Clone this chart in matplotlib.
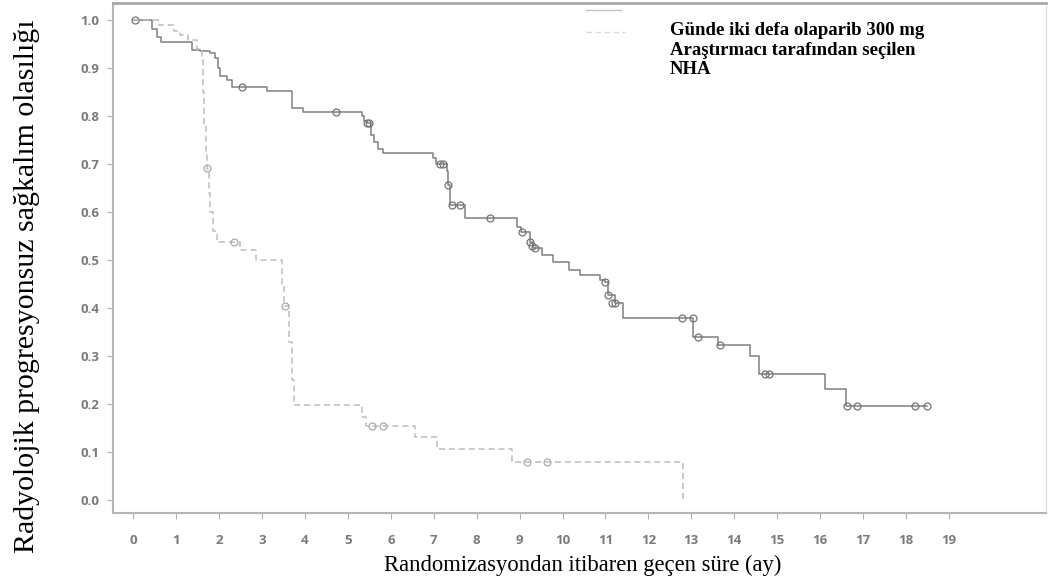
import matplotlib.pyplot as plt

# Olaparib kolu (düz çizgi): basamak zamanları (ay) ve sağkalım olasılığı
ola_t = [0, 0.45, 0.55, 0.65, 1.37, 1.56, 1.79, 1.91, 1.97, 2.03, 2.18, 2.30, 3.11, 3.69,
         3.96, 5.32, 5.38, 5.45, 5.55, 5.62, 5.70, 5.83, 6.98, 7.05, 7.30, 7.33, 7.37, 7.73,
         8.93, 9.03, 9.24, 9.32, 9.52, 9.79, 10.14, 10.41, 10.87, 10.99, 11.07, 11.22, 11.42,
         13.05, 13.62, 14.37, 14.57, 16.12, 16.60, 18.48]
ola_s = [1.0, 0.98, 0.965, 0.953, 0.9375, 0.934, 0.931, 0.92, 0.90, 0.882, 0.875, 0.86, 0.851,
         0.816, 0.809, 0.80, 0.79, 0.785, 0.76, 0.745, 0.73, 0.722, 0.712, 0.70, 0.685, 0.656,
         0.615, 0.587, 0.569, 0.559, 0.538, 0.524, 0.51, 0.496, 0.479, 0.469, 0.458, 0.455,
         0.427, 0.41, 0.3785, 0.34, 0.323, 0.30, 0.262, 0.231, 0.196, 0.196]
ola_cens_t = [0.05, 2.53, 4.73, 5.45, 5.50, 7.15, 7.22, 7.34, 7.42, 7.61, 8.31, 9.05, 9.24,
              9.30, 9.35, 10.99, 11.07, 11.15, 11.22, 12.78, 13.05, 13.15, 13.66, 14.72, 14.80,
              16.63, 16.85, 18.21, 18.48]
ola_cens_s = [1.0, 0.86, 0.809, 0.785, 0.785, 0.70, 0.70, 0.656, 0.615, 0.615, 0.587, 0.559,
              0.538, 0.53, 0.524, 0.455, 0.427, 0.41, 0.41, 0.3785, 0.3785, 0.34, 0.323, 0.262,
              0.262, 0.196, 0.196, 0.196, 0.196]

# NHA kolu (kesikli çizgi)
nha_t = [0, 0.6, 0.95, 1.1, 1.28, 1.48, 1.6, 1.63, 1.66, 1.69, 1.72, 1.76, 1.8, 1.86, 1.95,
         2.5, 2.85, 3.46, 3.52, 3.62, 3.7, 3.75, 5.32, 5.42, 6.57, 7.07, 8.82, 12.81]
nha_s = [1.0, 0.99, 0.976, 0.969, 0.958, 0.94, 0.92, 0.85, 0.78, 0.72, 0.69, 0.64, 0.60, 0.56,
         0.538, 0.521, 0.50, 0.45, 0.404, 0.33, 0.25, 0.198, 0.174, 0.154, 0.132, 0.106, 0.08, 0.0]
nha_cens_t = [1.71, 2.34, 3.53, 5.56, 5.83, 9.17, 9.63]
nha_cens_s = [0.691, 0.538, 0.404, 0.154, 0.154, 0.08, 0.08]

x_ticks = list(range(0, 20))
y_ticks = [i / 10 for i in range(0, 11)]

fig = plt.figure(figsize=(10.49, 5.83), dpi=100)
ax = fig.add_axes([0.1077, 0.12, 0.8894, 0.8749])

ax.step(ola_t, ola_s, where='post', color='#808080', lw=1.1)
ax.plot(ola_cens_t, ola_cens_s, 'o', ms=5, mfc='none', mec='#747474', mew=0.9)

ax.step(nha_t, nha_s, where='post', color='#bdbdbd', lw=1.1, linestyle=(0, (4, 2.5)))
ax.plot(nha_cens_t, nha_cens_s, 'o', ms=5, mfc='none', mec='#aaaaaa', mew=0.9)

ax.set_xlim(-0.47, 21.26)
ax.set_ylim(-0.027, 1.035)
ax.set_xticks(x_ticks)
ax.set_yticks(y_ticks)
ax.set_yticklabels([f'{v:.1f}' for v in y_ticks])
ax.tick_params(axis='both', colors='#b0b0b0', labelcolor='#7a7a7a', labelsize=9.5,
               length=4, width=0.8)
ax.tick_params(axis='x', pad=11)
ax.tick_params(axis='y', pad=6)
for lbl in ax.get_xticklabels() + ax.get_yticklabels():
    lbl.set_family('Open Sans')
    lbl.set_fontweight('bold')

for side in ['left', 'bottom']:
    ax.spines[side].set_color('#b5b5b5')
    ax.spines[side].set_linewidth(1.5)
ax.spines['top'].set_color('#a8a8a8')
ax.spines['top'].set_linewidth(2)
ax.spines['right'].set_color('#e2e2e2')
ax.spines['right'].set_linewidth(1)

# soluk lejant çizgileri
ax.plot([0.507, 0.545], [0.986, 0.986], transform=ax.transAxes, color='#c4c4c4', lw=1)
ax.plot([0.507, 0.549], [0.943, 0.943], transform=ax.transAxes, color='#dadada', lw=1,
        linestyle=(0, (4, 2.5)))

fig.text(0.6387, 0.962, 'Günde iki defa olaparib 300 mg\nAraştırmacı tarafından seçilen\nNHA',
         family='Liberation Serif', fontweight='bold', fontsize=13.5, va='top', ha='left',
         linespacing=1.2)

fig.text(0.026, 0.509, 'Radyolojik progresyonsuz sağkalım olasılığı', rotation=90,
         family='Liberation Serif', fontsize=21.5, ha='center', va='center')
fig.text(0.555, 0.031, 'Randomizasyondan itibaren geçen süre (ay)',
         family='Liberation Serif', fontsize=16.3, ha='center', va='center')

fig.savefig('out.png', dpi=100)
